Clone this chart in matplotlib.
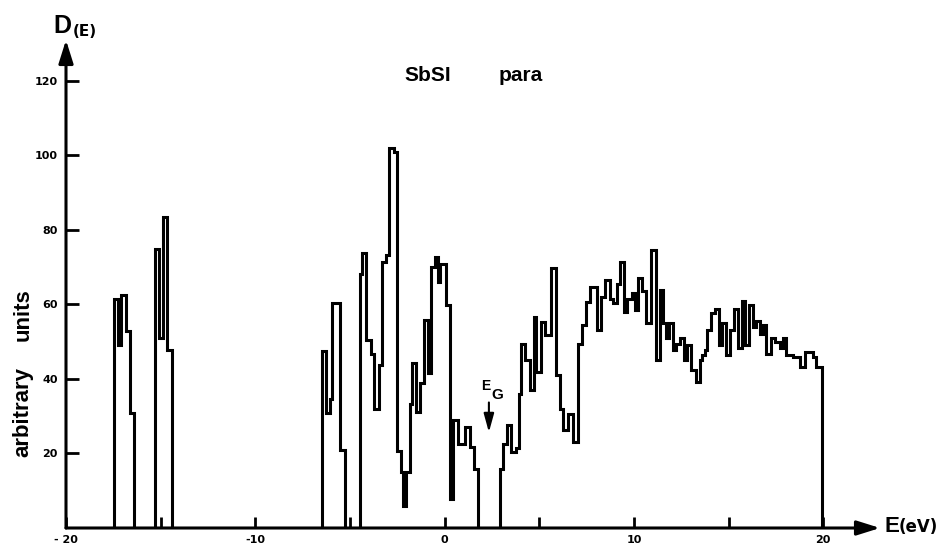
import numpy as np
import matplotlib
matplotlib.use("Agg")
import matplotlib.pyplot as plt

plt.rcParams['font.family'] = ['Liberation Sans', 'DejaVu Sans']
plt.rcParams['font.weight'] = 'bold'

# ---- data: density of states histogram (energy bin edges in eV, D(E) in arbitrary units)
band1_edges = [-17.45, -17.25, -17.10, -16.85, -16.62, -16.40]
band1_dos = [61.5, 49.0, 62.5, 53.0, 31.0]

band2_edges = [-15.30, -15.08, -14.86, -14.69, -14.42]
band2_dos = [75.0, 51.0, 83.5, 47.7]

band3a_edges = [-6.47, -6.28, -6.07, -5.93, -5.50, -5.28]
band3a_dos = [47.5, 31.0, 34.7, 60.5, 21.0]

band3b_edges = [-4.45, -4.34, -4.13, -3.90, -3.73, -3.48, -3.29, -3.11, -2.94, -2.69,
                -2.52, -2.29, -2.20, -2.02, -1.85, -1.71, -1.49, -1.32, -1.10, -0.88,
                -0.72, -0.50, -0.37, -0.22, 0.09, 0.30, 0.44, 0.70, 1.06, 1.32, 1.53, 1.76]
band3b_dos = [68.3, 73.7, 50.4, 46.8, 32.0, 43.7, 71.4, 73.4, 102.0, 101.0,
              20.8, 15.0, 6.0, 15.0, 33.4, 44.4, 31.1, 38.8, 55.8, 41.5,
              70.1, 72.8, 66.0, 71.0, 59.8, 7.8, 28.9, 22.6, 27.1, 21.7, 15.9]

band4_edges = [2.90, 3.08, 3.29, 3.50, 3.78, 3.92, 4.05, 4.27, 4.49, 4.70,
               4.85, 5.10, 5.28, 5.63, 5.86, 6.07, 6.28, 6.51, 6.77, 7.06,
               7.27, 7.45, 7.70, 8.05, 8.28, 8.47, 8.72, 8.90, 9.12, 9.28,
               9.48, 9.62, 9.88, 10.06, 10.24, 10.45, 10.66, 10.90, 11.17, 11.37,
               11.55, 11.72, 11.85, 12.06, 12.24, 12.41, 12.64, 12.82, 12.99, 13.29,
               13.47, 13.59, 13.73, 13.88, 14.05, 14.26, 14.47, 14.65, 14.88, 15.09,
               15.27, 15.50, 15.71, 15.88, 16.06, 16.29, 16.47, 16.64, 16.81, 16.99,
               17.22, 17.43, 17.70, 17.87, 18.05, 18.40, 18.75, 19.02, 19.46, 19.64,
               19.95]
band4_dos = [15.9, 22.6, 27.6, 20.4, 21.5, 36.0, 49.5, 45.0, 37.0, 56.7,
             41.9, 55.3, 51.7, 69.7, 41.0, 32.0, 26.2, 30.7, 23.1, 49.5,
             54.4, 60.7, 64.7, 53.1, 62.0, 66.5, 61.5, 60.3, 65.6, 71.5,
             58.0, 61.4, 63.2, 58.5, 67.0, 63.5, 54.9, 74.6, 45.0, 63.8,
             54.9, 51.0, 54.9, 47.7, 49.5, 51.1, 45.0, 49.1, 42.3, 39.2,
             45.0, 46.4, 47.7, 53.1, 57.6, 58.9, 49.1, 54.9, 46.4, 53.1,
             58.9, 48.2, 61.0, 49.1, 59.8, 54.0, 55.5, 52.0, 54.5, 46.8,
             51.0, 50.0, 48.2, 51.0, 46.4, 46.0, 43.2, 47.3, 45.9, 43.2]

x_major = [-20, -10, 0, 10, 20]
x_major_labels = ['- 20', '-10', '0', '10', '20']
x_minor = [-15, -5, 5, 15]
y_ticks = [20, 40, 60, 80, 100, 120]

gap_energy = 2.34  # E_G marker position (eV)

# ---- figure
fig = plt.figure(figsize=(9.49, 5.5), dpi=100)
ax = fig.add_axes([66 / 949, 22 / 550, 814 / 949, 488 / 550])
ax.set_xlim(-20, 23.0)
ax.set_ylim(0, 131)

for e, d in [(band1_edges, band1_dos), (band2_edges, band2_dos),
             (band3a_edges, band3a_dos), (band3b_edges, band3b_dos),
             (band4_edges, band4_dos)]:
    ax.stairs(d, e, baseline=0, color='black', linewidth=2.2, zorder=3)

for s in ax.spines.values():
    s.set_visible(False)

arrow_kw = dict(arrowstyle='-|>,head_length=0.7,head_width=0.22', color='black',
                lw=2.2, mutation_scale=20, shrinkA=0, shrinkB=0)
ax.annotate('', xy=(23.0, 0), xytext=(-20, 0), xycoords='data',
            arrowprops=arrow_kw, annotation_clip=False, zorder=4)
ax.annotate('', xy=(-20, 131), xytext=(-20, 0), xycoords='data',
            arrowprops=arrow_kw, annotation_clip=False, zorder=4)

tick_font = dict(family='DejaVu Sans', size=8, weight='bold')
ax.set_xticks(x_major)
ax.set_xticklabels(x_major_labels, fontdict=tick_font)
ax.set_xticks(x_minor, minor=True)
ax.set_yticks(y_ticks)
ax.set_yticklabels([str(v) for v in y_ticks], fontdict=tick_font)
ax.tick_params(axis='x', which='both', direction='in', length=8, width=2, pad=5)
ax.tick_params(axis='y', which='both', direction='in', length=9, width=2, pad=6)

# axis labels
fig.text(53 / 949, 1 - 33 / 550, 'D', fontsize=18, fontweight='bold', ha='left', va='baseline')
fig.text(73 / 949, 1 - 36 / 550, '(E)', fontsize=11, family='DejaVu Sans',
         fontweight='bold', ha='left', va='baseline')
fig.text(884 / 949, 1 - 532 / 550, 'E', fontsize=16, fontweight='bold', ha='left', va='baseline')
fig.text(899 / 949, 1 - 532 / 550, '(eV)', fontsize=12, family='DejaVu Sans',
         fontweight='bold', ha='left', va='baseline')
fig.text(23 / 949, 1 - 412 / 550, 'arbitrary', fontsize=16, fontweight='bold',
         rotation=90, ha='center', va='center')
fig.text(23 / 949, 1 - 315 / 550, 'units', fontsize=16, fontweight='bold',
         rotation=90, ha='center', va='center')

# title
fig.text(428 / 949, 1 - 81 / 550, 'SbSI', fontsize=15, fontweight='bold', ha='center', va='baseline')
fig.text(521 / 949, 1 - 81 / 550, 'para', fontsize=15, fontweight='bold', ha='center', va='baseline')

# band gap marker
ax.annotate('', xy=(gap_energy, 25.7), xytext=(gap_energy, 33.7),
            arrowprops=dict(arrowstyle='-|>,head_length=0.8,head_width=0.22', color='black',
                            lw=1.5, mutation_scale=14, shrinkA=0, shrinkB=0))
ax.text(1.95, 37.0, 'E', fontsize=10, fontweight='bold', ha='left', va='baseline')
ax.text(2.48, 34.5, 'G', fontsize=11, fontweight='bold', ha='left', va='baseline')

fig.savefig('out.png', dpi=100)
